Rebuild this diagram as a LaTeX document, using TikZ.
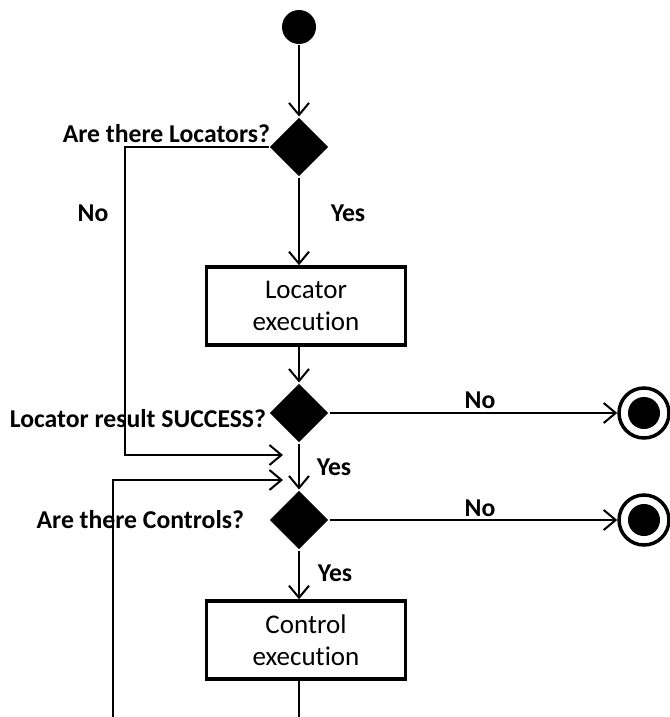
\documentclass[tikz,border=0pt]{standalone}
\usepackage{fontspec}
\setmainfont{Carlito}[Ligatures=NoCommon]
\usetikzlibrary{arrows.meta, shapes.geometric}
\tikzstyle{start}=[circle, fill=black, minimum size=34pt, inner sep=0pt]
\tikzstyle{decision}=[diamond, aspect=1, fill=black, minimum size=59pt, inner sep=0pt]
\tikzstyle{action}=[rectangle, draw, line width=3.5pt, minimum width=199pt, minimum height=78pt, align=center, font=\fontsize{27}{32}\selectfont]
\tikzstyle{final}=[circle, draw, line width=3.5pt, minimum size=50pt, inner sep=0pt, path picture={\fill (path picture bounding box.center) circle (16pt);}]
\tikzstyle{lbl}=[inner sep=0pt, font=\fontsize{25.7}{30}\selectfont\bfseries]
\tikzstyle{flow}=[-{Straight Barb[length=12pt, width=20pt, line width=2pt]}]

\begin{document}
\begin{tikzpicture}[x=1pt, y=-1pt, line width=2pt]
    \useasboundingbox (0,0) rectangle (669,717);
    \coordinate (vs) at (299,27);
    \coordinate (v1) at (299,147);
    \coordinate (v2) at (299,413);
    \coordinate (v3) at (299,520);
    \coordinate (b1) at (306,306);
    \coordinate (b2) at (306,640);
    \coordinate (e1) at (644,413);
    \coordinate (e2) at (644,520);
    \coordinate (m1) at (125,455);
    \coordinate (t1) at (283,455);
    \coordinate (m2) at (113,725);
    \coordinate (t2) at (283,480);
    \coordinate (vb) at (299,725);
    \node[lbl, anchor=base east] (q1) at (271,142) {Are there Locators?};
    \node[lbl, anchor=base east] (q2) at (267,427) {Locator result SUCCESS?};
    \node[lbl, anchor=base east] (q3) at (245,528) {Are there Controls?};
    \node[lbl] (n1) at (93,213) {No};
    \node[lbl] (y1) at (348,213) {Yes};
    \node[lbl] (n2) at (480,400) {No};
    \node[lbl] (y2) at (334,467) {Yes};
    \node[lbl] (n3) at (480,508) {No};
    \node[lbl] (y3) at (335,573) {Yes};
    \node[start] (s) at (vs) {};
    \node[decision] (d1) at (v1) {};
    \node[decision] (d2) at (v2) {};
    \node[decision] (d3) at (v3) {};
    \node[action] (a1) at (b1) {Locator\\execution};
    \node[action] (a2) at (b2) {Control\\execution};
    \node[final] (f1) at (e1) {};
    \node[final] (f2) at (e2) {};
    \draw[flow] (s) -- (d1);
    \draw[flow] (d1) -- (d1.south |- a1.north);
    \draw[flow] (d1.west) -| (m1) -- (t1);
    \draw[flow] (a1.south -| d1) -- (d2);
    \draw[flow] (d2) -- (f1);
    \draw[flow] (d2) -- (d3);
    \draw[flow] (m2) |- (t2);
    \draw[flow] (d3) -- (f2);
    \draw[flow] (d3) -- (d3.south |- a2.north);
    \draw (a2.south -| d3) -- (vb);
\end{tikzpicture}
\end{document}
